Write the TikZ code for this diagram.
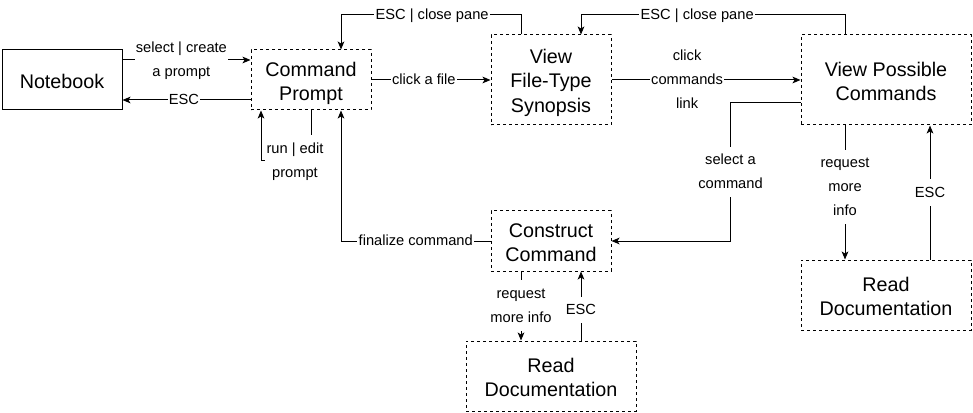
\documentclass[tikz,border=0pt]{standalone}
\usepackage{fontspec}
\setmainfont{Liberation Sans}
\usetikzlibrary{arrows.meta}
\newcommand{\boxtxt}[1]{\rule[-2.9pt]{0pt}{18pt}#1\rule[-2.9pt]{0pt}{18pt}}
\newcommand{\lbltxt}[1]{\strut#1\strut}
\begin{document}
\begin{tikzpicture}[
    x=0.75pt, y=-0.75pt,
    every node/.style={align=center},
    state/.style={draw, line width=0.75pt, minimum width=90pt, minimum height=45pt,
        inner sep=0pt, font=\fontsize{14.8}{18}\selectfont},
    pane/.style={state, dash pattern=on 2.25pt off 2.25pt},
    flow/.style={draw, line width=0.75pt, -{Stealth[length=6pt,width=5pt,inset=1.5pt]}},
    lbl/.style={fill=white, inner sep=1pt, font=\fontsize{11}{18}\selectfont},
    ]
\useasboundingbox (0,0) rectangle (973,413);
\node[state] (notebook) at (62,80) {\boxtxt{Notebook}};
\node[pane] (prompt) at (311,80) {\boxtxt{Command\\Prompt}};
\node[pane, minimum height=67.5pt] (synopsis) at (551,80) {\boxtxt{View\\File-Type\\Synopsis}};
\node[pane, minimum width=127.5pt, minimum height=67.5pt] (commands) at (886,80) {\boxtxt{View Possible\\Commands}};
\node[pane] (construct) at (551,241) {\boxtxt{Construct\\Command}};
\node[pane, minimum width=127.5pt, minimum height=52.5pt] (docA) at (551,376) {\boxtxt{Read\\Documentation}};
\node[pane, minimum width=127.5pt, minimum height=52.5pt] (docB) at (886,295) {\boxtxt{Read\\Documentation}};
\draw[flow] ([yshift=15pt]notebook.east) -- node[lbl, pos=0.46] {\lbltxt{select | create\\a prompt}} ([yshift=15pt]prompt.west);
\draw[flow] ([yshift=-15pt]prompt.west) -- node[lbl, pos=0.52] {\lbltxt{ESC}} ([yshift=-15pt]notebook.east);
\draw[flow] (prompt.south) -- ++(0,50) -| node[lbl, pos=0.16] {\lbltxt{run | edit\\prompt}} ([xshift=-37.5pt]prompt.south);
\draw[flow] (prompt.east) -- node[lbl, pos=0.44] {\lbltxt{click a file}} (synopsis.west);
\draw[flow] ([xshift=-22.5pt]synopsis.north) -- ++(0,-20) -| node[lbl, pos=0.247] {\lbltxt{ESC | close pane}} ([xshift=22.5pt]prompt.north);
\draw[flow] (synopsis.east) -- node[lbl, pos=0.40] {\lbltxt{click\\commands\\link}} (commands.west);
\draw[flow] ([xshift=-30.75pt]commands.north) -- ++(0,-20) -| node[lbl, pos=0.28] {\lbltxt{ESC | close pane}} ([xshift=22.5pt]synopsis.north);
\draw[flow] ([yshift=-17.25pt]commands.west) -- ++(-70,0) |- node[lbl, pos=0.25] {\lbltxt{select a\\command}} (construct.east);
\draw[flow] (construct.west) -| node[lbl, pos=0.25] {\lbltxt{finalize command}} ([xshift=22.5pt]prompt.south);
\draw[flow] ([xshift=-22.5pt]construct.south) -- node[lbl, pos=0.49] {\lbltxt{request\\more info}} ([xshift=-22.5pt]docA.north);
\draw[flow] ([xshift=22.5pt]docA.north) -- node[lbl, pos=0.44] {\lbltxt{ESC}} ([xshift=22.5pt]construct.south);
\draw[flow] ([xshift=-30.75pt]commands.south) -- node[lbl, pos=0.46] {\lbltxt{request\\more\\info}} ([xshift=-30.75pt]docB.north);
\draw[flow] ([xshift=33pt]docB.north) -- node[lbl, pos=0.50] {\lbltxt{ESC}} ([xshift=33pt]commands.south);
\end{tikzpicture}
\end{document}
